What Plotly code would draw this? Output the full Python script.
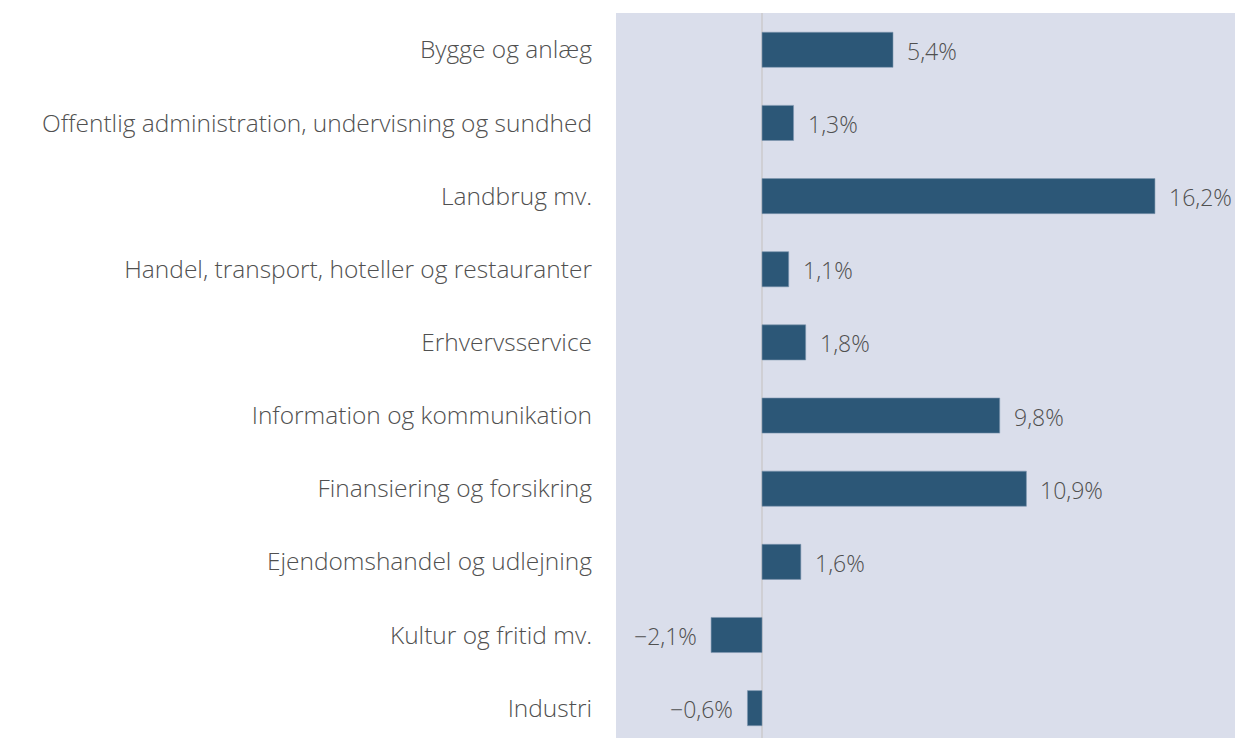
import plotly.graph_objects as go

categories = [
    "Bygge og anlæg",
    "Offentlig administration, undervisning og sundhed",
    "Landbrug mv.",
    "Handel, transport, hoteller og restauranter",
    "Erhvervsservice",
    "Information og kommunikation",
    "Finansiering og forsikring",
    "Ejendomshandel og udlejning",
    "Kultur og fritid mv.",
    "Industri",
]
values = [5.4, 1.3, 16.2, 1.1, 1.8, 9.8, 10.9, 1.6, -2.1, -0.6]


def fmt(v):
    s = f"{abs(v):.1f}".replace(".", ",") + "%"
    return ("\u2212" + s) if v < 0 else s


FONT = "Open Sans"
TXT = "#505050"

fig = go.Figure(
    go.Bar(
        y=categories,
        x=values,
        orientation="h",
        width=0.48,
        marker=dict(color="#2c5777", line=dict(color="#7f97b0", width=0.6)),
        hoverinfo="skip",
    )
)

annotations = []
for c, v in zip(categories, values):
    annotations.append(
        dict(
            x=v,
            y=c,
            xref="x",
            yref="y",
            text=fmt(v),
            showarrow=False,
            xanchor="left" if v >= 0 else "right",
            xshift=12 if v >= 0 else -12,
            yshift=-1,
            font=dict(family=FONT, size=23, color=TXT, weight=300),
        )
    )

fig.update_layout(
    width=1235,
    height=738,
    margin=dict(l=616, r=0, t=13, b=0),
    paper_bgcolor="white",
    plot_bgcolor="#dadeeb",
    showlegend=False,
    annotations=annotations,
    xaxis=dict(
        range=[-6.02, 19.5],
        showgrid=False,
        showticklabels=False,
        zeroline=True,
        zerolinecolor="#cfcfd4",
        zerolinewidth=2,
        fixedrange=True,
    ),
    yaxis=dict(
        categoryorder="array",
        categoryarray=categories,
        range=[9.408, -0.503],
        showgrid=False,
        ticks="",
        ticklabelstandoff=23,
        tickfont=dict(family=FONT, size=24.5, color=TXT, weight=300),
        fixedrange=True,
    ),
)

fig.write_html("out.html", config={"displayModeBar": False})

with open("out.html", "r", encoding="utf-8") as f:
    html = f.read()
html = html.replace("<body>", '<body style="margin:0;overflow:hidden">', 1)
with open("out.html", "w", encoding="utf-8") as f:
    f.write(html)
